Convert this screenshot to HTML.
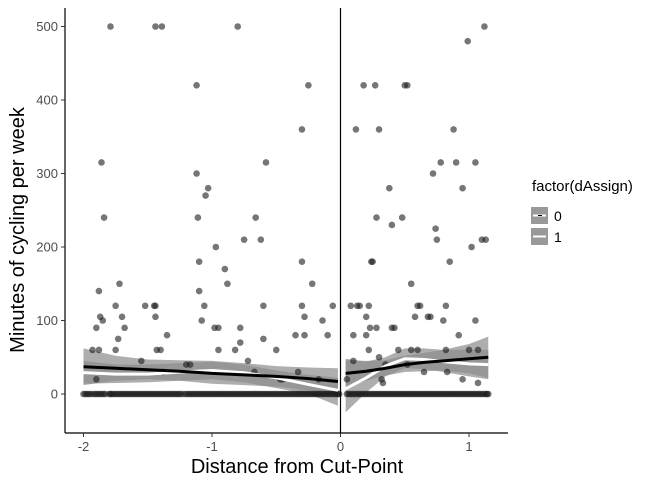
<!DOCTYPE html>
<html><head><meta charset="utf-8"><style>
body{margin:0;background:#fff;}
svg{display:block;font-family:"Liberation Sans",Arial,sans-serif;}
</style></head><body>
<svg id="chart" width="672" height="480">
<g id="bands"></g>
<g id="pts"></g>
<g id="lines"></g>
<g id="axes"></g>
</svg>
<script>
const yTicks=[0,100,200,300,400,500];
const xTicks=[-2,-1,0,1];
const zeroXLeft=[-2,-1.97,-1.94,-1.92,-1.89,-1.86,-1.83,-1.8,-1.78,-1.75,-1.72,-1.69,-1.66,-1.63,-1.6,-1.57,-1.54,-1.51,-1.48,-1.45,-1.42,-1.39,-1.36,-1.33,-1.3,-1.27,-1.24,-1.2,-1.17,-1.14,-1.11,-1.08,-1.05,-1.02,-0.99,-0.96,-0.93,-0.9,-0.87,-0.84,-0.81,-0.78,-0.75,-0.72,-0.69,-0.66,-0.63,-0.6,-0.57,-0.54,-0.51,-0.48,-0.45,-0.42,-0.39,-0.36,-0.33,-0.3,-0.27,-0.24,-0.21,-0.18,-0.15,-0.12,-0.09,-0.06,-0.03,-0.02,
-1.985,-1.955,-1.905,-1.875,-1.845,-1.79,-1.765,-1.735,-1.705,-1.675,-1.645,-1.615,-1.585,-1.555,-1.525,-1.495,-1.465,-1.435,-1.405,-1.375,-1.345,-1.315,-1.285,-1.255,-1.22,-1.185,-1.155,-1.125,-1.095,-1.065,-1.035,-1.005,-0.975,-0.945,-0.915,-0.885,-0.855,-0.825,-0.795,-0.765,-0.735,-0.705,-0.675,-0.645,-0.615,-0.585,-0.555,-0.525,-0.495,-0.465,-0.435,-0.405,-0.375,-0.345,-0.315,-0.285,-0.255,-0.225,-0.195,-0.165,-0.135,-0.105,-0.075,-0.045,-0.01];
const zeroXRight=[0.05,0.08,0.11,0.14,0.17,0.2,0.23,0.26,0.29,0.32,0.35,0.38,0.41,0.44,0.47,0.5,0.53,0.56,0.59,0.62,0.65,0.68,0.71,0.74,0.77,0.8,0.83,0.86,0.89,0.92,0.95,0.98,1.01,1.04,1.07,1.1,1.13,1.15,
0.065,0.095,0.125,0.155,0.185,0.215,0.245,0.275,0.305,0.335,0.365,0.395,0.425,0.455,0.485,0.515,0.545,0.575,0.605,0.635,0.665,0.695,0.725,0.755,0.785,0.815,0.845,0.875,0.905,0.935,0.965,0.995,1.025,1.055,1.085,1.115,1.14];
const ptX=[-1.79,-1.44,-1.39,-0.8,0.99,1.12,-1.86,-1.84,-1.88,-1.87,-1.85,-1.9,-1.93,-1.88,-1.9,-1.72,-1.75,-1.7,-1.68,-1.75,-1.73,-1.55,-1.52,-1.45,-1.44,-1.44,-1.43,-1.4,-1.35,-1.38,-1.2,-1.17,-1.12,-1.12,-1.11,-1.1,-1.1,-1.08,-1.06,-1.05,-1.03,-0.98,-0.95,-0.95,-0.97,-0.9,-0.88,-0.82,-0.78,-0.78,-0.75,-0.72,-0.67,-0.66,-0.62,-0.6,-0.6,-0.58,-0.5,-0.47,-0.45,-0.35,-0.33,-0.3,-0.3,-0.28,-0.25,-0.28,-0.22,-0.17,-0.14,-0.1,-0.06,-0.3,
0.05,0.08,0.1,0.1,0.12,0.13,0.15,0.18,0.2,0.2,0.22,0.22,0.23,0.24,0.25,0.27,0.3,0.28,0.28,0.3,0.32,0.33,0.35,0.38,0.4,0.4,0.42,0.45,0.48,0.5,0.52,0.55,0.52,0.55,0.58,0.6,0.6,0.62,0.65,0.68,0.72,0.7,0.74,0.75,0.78,0.8,0.82,0.82,0.83,0.85,0.88,0.9,0.92,0.95,0.95,1.0,1.02,1.05,1.07,1.07,1.1,1.13,1.05];
const ptY=[500,500,500,500,480,500,315,240,140,105,100,90,60,60,20,150,120,105,90,60,75,45,120,120,120,105,60,60,80,30,40,40,420,300,240,180,140,100,120,270,280,90,90,60,200,170,150,60,70,90,210,45,30,240,210,120,75,315,60,20,20,80,30,360,120,105,420,80,150,20,100,80,120,180,
20,120,45,80,360,120,120,420,80,105,120,60,90,180,180,420,360,240,90,50,20,15,40,280,230,90,90,60,240,420,420,150,40,60,105,120,60,120,30,105,300,105,225,210,315,100,120,60,30,180,360,315,80,280,20,60,200,315,60,15,210,210,100];
const bandXL=[-2,-1.75,-1.5,-1.25,-1,-0.75,-0.5,-0.25,-0.02];
const bandXR=[0.04,0.2,0.35,0.5,0.65,0.8,1.0,1.15];
const fitL0=[37,35,33,31,28,26,24,21,17];
const fitL1=[29,27,27,30,32,29,22,13,5];
const fitR0=[28,31,35,40,43,45,48,50];
const fitR1=[7,22,38,48,47,44,41,40];
const hiL0=[62,52,47,46,45,42,38,36,35], loL0=[12,18,20,18,14,12,10,5,0];
const hiL1=[45,40,40,42,44,40,32,26,22], loL1=[14,15,16,18,20,16,8,0,-16];
const hiR0=[46,45,46,52,56,60,68,78], loR0=[10,18,25,30,31,32,28,22];
const hiR1=[48,44,50,62,62,60,60,60], loR1=[-25,2,24,35,34,30,24,20];

const NS='http://www.w3.org/2000/svg';
const X=v=>340.5+v*128.5, Y=v=>394-v*0.735;
function mk(tag,attrs,parent){const e=document.createElementNS(NS,tag);for(const k in attrs)e.setAttribute(k,attrs[k]);parent.appendChild(e);return e;}
const bands=document.getElementById('bands'),pts=document.getElementById('pts'),lines=document.getElementById('lines'),axes=document.getElementById('axes');
function band(xs,lo,hi,name){
  let d='M'+xs.map((x,i)=>X(x)+','+Y(hi[i])).join('L');
  for(let i=xs.length-1;i>=0;i--)d+='L'+X(xs[i])+','+Y(lo[i]);
  const p=mk('path',{d:d+'Z',fill:'#8c8c8c','fill-opacity':'0.7'},bands);
  
  
}
band(bandXL,loL0,hiL0,'band-left-0');band(bandXL,loL1,hiL1,'band-left-1');
band(bandXR,loR0,hiR0,'band-right-0');band(bandXR,loR1,hiR1,'band-right-1');
function dot(x,y){const c=mk('circle',{cx:X(x),cy:Y(y),r:3.3,fill:'#1a1a1a','fill-opacity':'0.6'},pts);
  
  }
zeroXLeft.forEach(x=>dot(x,0));zeroXRight.forEach(x=>dot(x,0));
ptX.forEach((x,i)=>dot(x,ptY[i]));
function line(xs,ys,col,name){
  const p=mk('polyline',{points:xs.map((x,i)=>X(x)+','+Y(ys[i])).join(' '),fill:'none',stroke:col,'stroke-width':3,'stroke-linejoin':'round'},lines);
  
  
}
line(bandXL,fitL1,'#fff','fit-left-1');line(bandXR,fitR1,'#fff','fit-right-1');
line(bandXL,fitL0,'#000','fit-left-0');line(bandXR,fitR0,'#000','fit-right-0');
mk('line',{x1:340.5,y1:8,x2:340.5,y2:433,stroke:'#000','stroke-width':1.2},axes);
mk('line',{x1:65,y1:8,x2:65,y2:433,stroke:'#000','stroke-width':1.2},axes);
mk('line',{x1:65,y1:433,x2:508,y2:433,stroke:'#000','stroke-width':1.2},axes);
yTicks.forEach(t=>{mk('line',{x1:61,x2:65,y1:Y(t),y2:Y(t),stroke:'#333'},axes);
  const tx=mk('text',{x:58,y:Y(t)+4.5,'text-anchor':'end','font-size':13,fill:'#4d4d4d'},axes);tx.textContent=t;
  
  });
xTicks.forEach(t=>{mk('line',{x1:X(t),x2:X(t),y1:433,y2:437,stroke:'#333'},axes);
  const tx=mk('text',{x:X(t),y:451,'text-anchor':'middle','font-size':13,fill:'#4d4d4d'},axes);tx.textContent=t;
  
  });
</script>
<svg style="position:absolute;left:0;top:0" width="672" height="480">
<text x="297" y="473" text-anchor="middle" font-size="20">Distance from Cut-Point</text>
<text transform="translate(24,230) rotate(-90)" text-anchor="middle" font-size="20">Minutes of cycling per week</text>
<g>
<text x="532" y="191" font-size="15">factor(dAssign)</text>
<g><rect x="531" y="207" width="17" height="17" fill="#999"/><line x1="533" y1="215.5" x2="546" y2="215.5" stroke="#fff" stroke-width="2"/><line x1="538" y1="215.5" x2="542" y2="215.5" stroke="#000" stroke-width="1"/><text x="554" y="221" font-size="14">0</text></g>
<g><rect x="531" y="228" width="17" height="17" fill="#999"/><line x1="533" y1="236.5" x2="546" y2="236.5" stroke="#fff" stroke-width="2"/><text x="554" y="242" font-size="14">1</text></g>
</g>
</svg>
</body></html>
